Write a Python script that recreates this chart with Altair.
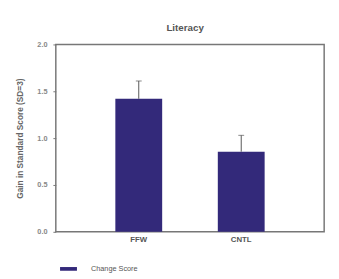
import altair as alt
import pandas as pd

groups = ["FFW", "CNTL"]
scores = [1.42, 0.855]
upper = [1.61, 1.03]
series = ["Change Score", "Change Score"]

df = pd.DataFrame({"group": groups, "score": scores, "upper": upper, "series": series})

x = alt.X("group:N", sort=groups, title=None,
          scale=alt.Scale(paddingInner=0.543, paddingOuter=0.581),
          axis=alt.Axis(labelAngle=0, ticks=False, domain=False, labelFont="Liberation Sans",
                        labelFontSize=8, labelFontWeight="bold", labelColor="#555555", labelPadding=4))
y = alt.Y("score:Q", title="Gain in Standard Score (SD=3)",
          scale=alt.Scale(domain=[0, 2]),
          axis=alt.Axis(values=[0, 0.5, 1, 1.5, 2], format=".1f", grid=False, domain=False,
                        tickSize=3, tickColor="#777777", labelFontSize=7.5, labelFontWeight="bold",
                        labelColor="#888888", labelFont="Liberation Sans", labelPadding=6,
                        titleFont="Liberation Sans", titleFontSize=8.5, titleFontWeight="bold",
                        titleColor="#666666", titlePadding=13))

bars = alt.Chart(df).mark_bar().encode(
    x=x, y=y,
    color=alt.Color("series:N", title=None,
                    scale=alt.Scale(range=["#33297a"]),
                    legend=alt.Legend(orient="none", legendX=4, legendY=221,
                                      symbolType="M-1,-0.22H1V0.22H-1Z", symbolSize=300,
                                      symbolStrokeWidth=0, labelFont="Liberation Sans",
                                      labelFontSize=7.5, labelColor="#555555", labelOffset=14))
)
rule = alt.Chart(df).mark_rule(color="#555555", strokeWidth=1).encode(
    x=alt.X("group:N", sort=groups), y="score:Q", y2="upper:Q")
cap = alt.Chart(df).mark_tick(color="#555555", thickness=1, size=6).encode(
    x=alt.X("group:N", sort=groups), y="upper:Q")

chart = (bars + rule + cap).properties(
    width=275, height=192,
    background="white",
    title=alt.TitleParams("Literacy", font="Liberation Sans", fontSize=10, fontWeight="bold",
                          color="#555555", offset=8, dx=-5),
    autosize=alt.AutoSizeParams(type="none"),
    padding={"left": 49, "top": 34, "right": 7, "bottom": 45},
).configure_view(stroke="#777777", strokeWidth=1.5)

chart.save("out.html", embed_options={"renderer": "svg", "actions": False})
